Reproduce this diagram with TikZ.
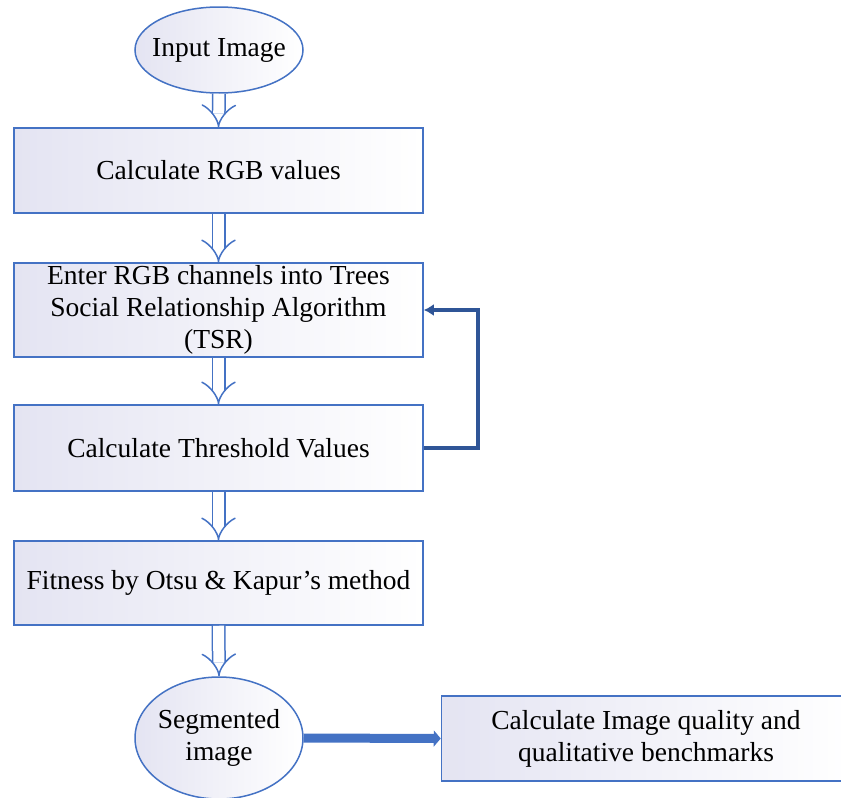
\documentclass[tikz,border=0pt]{standalone}
\usepackage{fontspec}
\setmainfont{Liberation Serif}
\usetikzlibrary{arrows.meta, positioning, shapes.geometric}
\definecolor{edgeblue}{HTML}{4472C4}
\definecolor{loopblue}{HTML}{2F5597}
\definecolor{boxfill}{HTML}{E4E4F2}

\begin{document}
\begin{tikzpicture}[
    x=1pt, y=-1pt,
    font=\fontsize{27.5}{32}\selectfont,
    % Styles
    stepbox/.style={draw=edgeblue, line width=1.5pt, left color=boxfill, right color=white, align=center, minimum width=409pt, minimum height=85pt, inner sep=0pt},
    term/.style={ellipse, draw=edgeblue, line width=1.5pt, left color=boxfill, right color=white, align=center, minimum width=168pt, minimum height=86pt, inner xsep=-14pt, inner ysep=0pt},
    hollow/.style={draw=edgeblue, line width=1.5pt, double=white, double distance=11pt, -{Implies}},
    loop/.style={draw=loopblue, line width=3.5pt, -{Latex[length=10pt, width=12pt]}},
    result_arrow/.style={draw=edgeblue, line width=9pt, -{Triangle[length=7pt, width=16pt]}}
]
    \useasboundingbox (0,0) rectangle (841,798);

    % 1. TERMINALS AND STEPS
    \node[term] (input) at (219,50) {Input Image};
    \node[stepbox] (rgb) at (218.5,170.5) {Calculate RGB values};
    \node[stepbox, minimum height=94pt] (tsr) at (218.5,310) {Enter RGB channels into Trees\\Social Relationship Algorithm\\(TSR)};
    \node[stepbox, minimum height=86pt] (thresh) at (218.5,448) {Calculate Threshold Values};
    \node[stepbox, minimum height=84pt] (fitness) at (218.5,583) {Fitness by Otsu \& Kapur's method};
    \node[term, minimum height=122pt] (segmented) at (219,738) {Segmented\\image};
    \node[stepbox] (quality) at (646,738.5) {Calculate Image quality and\\qualitative benchmarks};

    % 2. ARROWS
    \draw[hollow] (input.south) -- (rgb.north);
    \draw[hollow] (rgb.south) -- (tsr.north);
    \draw[hollow] (tsr.south) -- (thresh.north);
    \draw[hollow] (thresh.south) -- (fitness.north);
    \draw[hollow] (fitness.south) -- (segmented.north);

    % Feedback loop
    \draw[loop] (thresh.east) -- ++(54,0) |- (tsr.east);

    % Segmented image to benchmarks
    \draw[result_arrow] (segmented.east) -- (quality.west);

\end{tikzpicture}
\end{document}
